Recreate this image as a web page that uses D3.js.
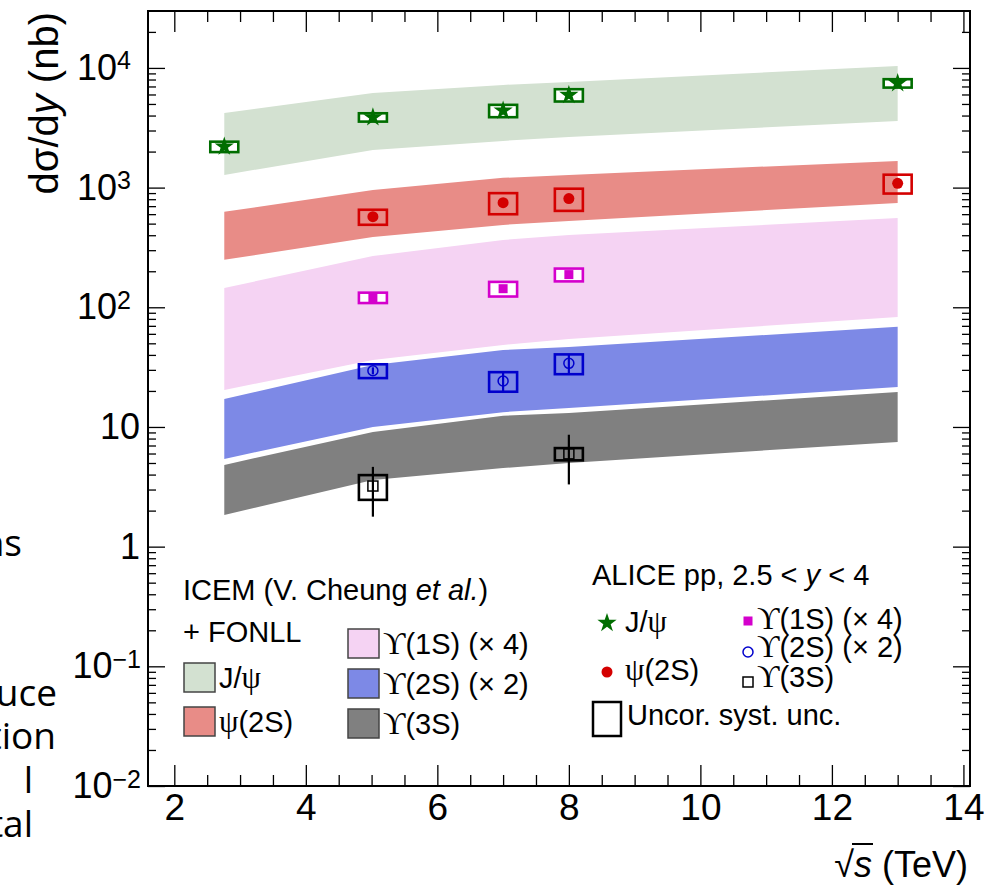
<!DOCTYPE html>
<html>
<head>
<meta charset="utf-8">
<script src="https://cdn.jsdelivr.net/npm/d3@7"></script>
<style>
  body { margin: 0; background: #fff; }
  svg { display: block; }
  text { font-family: "Liberation Sans", Arial, sans-serif; fill: #000; }
  .greek { font-family: "Liberation Serif", "DejaVu Serif", serif; }
</style>
</head>
<body>
<script>
// model bands (ICEM + FONLL), upper and lower edges at each energy
var bandX = [2.76, 5.02, 7, 8, 13],
	jpsiHi = [4210, 6180, 7210, 7640, 10390],
	jpsiLo = [1276, 2066, 2456, 2651, 3608],
	psi2sHi = [627, 957, 1206, 1277, 1672],
	psi2sLo = [249, 387, 488, 527, 745],
	ups1Hi = [145, 268, 365, 402, 557],
	ups1Lo = [20.4, 36.3, 48.5, 54.4, 83.0],
	ups2Hi = [17.1, 33.0, 44.0, 46.6, 68.6],
	ups2Lo = [5.41, 10.0, 13.3, 14.4, 21.6],
	ups3Hi = [4.82, 9.09, 12.4, 13.1, 19.6],
	ups3Lo = [1.84, 3.61, 4.54, 5.00, 7.50];

// ALICE data: value, stat. and uncorrelated syst. uncertainties
var jpsiX = [2.76, 5.02, 7, 8, 13],
	jpsiY = [2200, 3870, 4395, 5940, 7450],
	jpsiStat = [60, 90, 120, 150, 150],
	jpsiSys = [220, 310, 520, 700, 600];
var psi2sX = [5.02, 7, 8, 13],
	psi2sY = [571, 749, 809, 1087],
	psi2sStat = [25, 40, 45, 40],
	psi2sSys = [82, 150, 170, 195];
var ups1X = [5.02, 7, 8],
	ups1Y = [120.5, 143, 187.6],
	ups1Stat = [4, 8, 9],
	ups1Sys = [12, 20, 23];
var ups2X = [5.02, 7, 8],
	ups2Y = [29.5, 24.2, 34.0],
	ups2Stat = [2, 4.6, 6.5],
	ups2Sys = [3.9, 4.5, 6.4];
var ups3X = [5.02, 8],
	ups3Y = [3.21, 5.96],
	ups3Stat = [1.43, 2.65],
	ups3Sys = [0.75, 0.70];

// axis ticks
var xMajor = [2, 4, 6, 8, 10, 12, 14],
	yMajor = [0.01, 0.1, 1, 10, 100, 1000, 10000];

// frame edges (note: "top" is taken by window.top)
var W = 999, H = 887,
	fLeft = 148, fRight = 970, fTop = 11, fBottom = 786;

var svg = d3.select('body').append('svg')
	.attr('width', W)
	.attr('height', H);

var x = d3.scaleLinear().domain([1.6, 14.1]).range([fLeft, fRight]);
var y = d3.scaleLog().domain([0.01, 29900]).range([fBottom, fTop]);

// minor ticks
var xMinor = d3.range(1.5, 14.01, 0.5).filter(function(v) { return v > 1.6 && v % 2 != 0; });
var yMinor = [];
yMajor.forEach(function(d) {
	for (var m = 2; m <= 9; m++) {
		if (d * m < 29900) yMinor.push(d * m);
	}
});

// bands
var bands = [
	{hi: jpsiHi, lo: jpsiLo, color: '#d3e1d1'},
	{hi: psi2sHi, lo: psi2sLo, color: '#e88c87'},
	{hi: ups1Hi, lo: ups1Lo, color: '#f5d3f3'},
	{hi: ups2Hi, lo: ups2Lo, color: '#7d89e6'},
	{hi: ups3Hi, lo: ups3Lo, color: '#808080'}
];
var area = d3.area()
	.x(function(d) { return x(d.x); })
	.y0(function(d) { return y(d.lo); })
	.y1(function(d) { return y(d.hi); });

bands.forEach(function(b) {
	var pts = bandX.map(function(v, i) { return {x: v, hi: b.hi[i], lo: b.lo[i]}; });
	svg.append('path')
		.attr('d', area(pts))
		.attr('fill', b.color);
});

// data series
var series = [
	{x: jpsiX, y: jpsiY, stat: jpsiStat, sys: jpsiSys, color: '#006d00', marker: 'star', boxFill: 'white'},
	{x: psi2sX, y: psi2sY, stat: psi2sStat, sys: psi2sSys, color: '#d40000', marker: 'dot', boxFill: 'none'},
	{x: ups1X, y: ups1Y, stat: ups1Stat, sys: ups1Sys, color: '#d400cc', marker: 'fsquare', boxFill: 'white'},
	{x: ups2X, y: ups2Y, stat: ups2Stat, sys: ups2Sys, color: '#0000cc', marker: 'ocircle', boxFill: 'none'},
	{x: ups3X, y: ups3Y, stat: ups3Stat, sys: ups3Sys, color: '#000000', marker: 'osquare', boxFill: 'none'}
];

function drawMarker(g, type, cx, cy, color, fill) {
	if (type == 'star') {
		g.append('path')
			.attr('d', d3.symbol().type(d3.symbolStar).size(115)())
			.attr('transform', 'translate(' + cx + ',' + cy + ')')
			.attr('fill', color);
	} else if (type == 'dot') {
		g.append('circle').attr('cx', cx).attr('cy', cy).attr('r', 5.5).attr('fill', color);
	} else if (type == 'fsquare') {
		g.append('rect').attr('x', cx - 4.5).attr('y', cy - 4.5).attr('width', 9).attr('height', 9).attr('fill', color);
	} else if (type == 'ocircle') {
		g.append('circle').attr('cx', cx).attr('cy', cy).attr('r', 5)
			.attr('fill', 'none').attr('stroke', color).attr('stroke-width', 1.5);
	} else if (type == 'osquare') {
		g.append('rect').attr('x', cx - 5).attr('y', cy - 5).attr('width', 10).attr('height', 10)
			.attr('fill', fill || 'none').attr('stroke', color).attr('stroke-width', 1.5);
	}
}

var gData = svg.append('g');
series.forEach(function(s) {
	s.x.forEach(function(xv, i) {
		var cx = x(xv), v = s.y[i];
		// uncorrelated syst. box
		gData.append('rect')
			.attr('x', cx - 14)
			.attr('width', 28)
			.attr('y', y(v + s.sys[i]))
			.attr('height', y(v - s.sys[i]) - y(v + s.sys[i]))
			.attr('fill', s.boxFill)
			.attr('stroke', s.color)
			.attr('stroke-width', 2.6);
		// stat. error bar
		gData.append('line')
			.attr('x1', cx).attr('x2', cx)
			.attr('y1', y(v + s.stat[i]))
			.attr('y2', y(v - s.stat[i]))
			.attr('stroke', s.color)
			.attr('stroke-width', 2.2);
		drawMarker(gData, s.marker, cx, y(v), s.color);
	});
});

// axes
var axisFont = function(sel, size) {
	sel.selectAll('text')
		.style('font-family', '"Liberation Sans", Arial, sans-serif')
		.style('font-size', size + 'px')
		.attr('fill', '#000');
	sel.selectAll('line').attr('stroke', '#000').attr('stroke-width', 1.3);
	sel.select('.domain').remove();
};

// bottom
svg.append('g')
	.attr('transform', 'translate(0,' + fBottom + ')')
	.call(d3.axisBottom(x).tickValues(xMajor).tickSizeInner(-21).tickSizeOuter(0).tickPadding(8))
	.call(axisFont, 37);
svg.append('g')
	.attr('transform', 'translate(0,' + fBottom + ')')
	.call(d3.axisBottom(x).tickValues(xMinor).tickSizeInner(-11).tickSizeOuter(0).tickFormat(''))
	.call(axisFont, 37);
// top
svg.append('g')
	.attr('transform', 'translate(0,' + fTop + ')')
	.call(d3.axisTop(x).tickValues(xMajor).tickSizeInner(-21).tickSizeOuter(0).tickFormat(''))
	.call(axisFont, 37);
svg.append('g')
	.attr('transform', 'translate(0,' + fTop + ')')
	.call(d3.axisTop(x).tickValues(xMinor).tickSizeInner(-11).tickSizeOuter(0).tickFormat(''))
	.call(axisFont, 37);

// left
var yAx = svg.append('g')
	.attr('transform', 'translate(' + fLeft + ',0)')
	.call(d3.axisLeft(y).tickValues(yMajor).tickSizeInner(-17).tickSizeOuter(0).tickPadding(8).tickFormat(''))
	.call(axisFont, 36);
yAx.selectAll('.tick text').each(function(d) {
	var t = d3.select(this), e = Math.round(Math.log10(d));
	if (e == 0) { t.text('1'); }
	else if (e == 1) { t.text('10'); }
	else {
		t.attr('x', e > 0 ? -17 : -7);
		t.append('tspan').text('10');
		t.append('tspan').attr('dy', '-0.42em').style('font-size', '25px')
			.text(e < 0 ? '\u2212' + (-e) : e);
	}
});
svg.append('g')
	.attr('transform', 'translate(' + fLeft + ',0)')
	.call(d3.axisLeft(y).tickValues(yMinor).tickSizeInner(-8).tickSizeOuter(0).tickFormat(''))
	.call(axisFont, 36);
// right
svg.append('g')
	.attr('transform', 'translate(' + fRight + ',0)')
	.call(d3.axisRight(y).tickValues(yMajor).tickSizeInner(-17).tickSizeOuter(0).tickFormat(''))
	.call(axisFont, 36);
svg.append('g')
	.attr('transform', 'translate(' + fRight + ',0)')
	.call(d3.axisRight(y).tickValues(yMinor).tickSizeInner(-8).tickSizeOuter(0).tickFormat(''))
	.call(axisFont, 36);

// frame
svg.append('rect')
	.attr('x', fLeft).attr('y', fTop)
	.attr('width', fRight - fLeft).attr('height', fBottom - fTop)
	.attr('fill', 'none').attr('stroke', '#000').attr('stroke-width', 2);

// y title
var yt = svg.append('text')
	.attr('transform', 'translate(58,12) rotate(-90)')
	.attr('text-anchor', 'end')
	.style('font-size', '40px');
yt.append('tspan').text('d\u03c3/d');
yt.append('tspan').style('font-style', 'italic').text('y');
yt.append('tspan').text(' (nb)');

// x title
var xt = svg.append('text')
	.attr('x', 968).attr('y', 877)
	.attr('text-anchor', 'end')
	.style('font-size', '36px');
xt.append('tspan').text('\u221a');
xt.append('tspan').style('font-style', 'italic').text('s');
xt.append('tspan').text(' (TeV)');
var sx0 = xt.node().getStartPositionOfChar(1).x,
	sx1 = xt.node().getEndPositionOfChar(1).x;
svg.append('line')
	.attr('x1', sx0 - 2).attr('x2', sx1 + 1)
	.attr('y1', 844).attr('y2', 844)
	.attr('stroke', '#000').attr('stroke-width', 2);

// model legend
var legL = svg.append('g').style('font-size', '29px');
var t1 = legL.append('text').attr('x', 183).attr('y', 600);
t1.append('tspan').text('ICEM (V. Cheung ');
t1.append('tspan').style('font-style', 'italic').text('et al.');
t1.append('tspan').text(')');
legL.append('text').attr('x', 183).attr('y', 642).text('+ FONLL');

var modelLeg = [
	{bx: 184, by: 663, label: ['J/', '\u03c8', ''], color: bands[0].color},
	{bx: 184, by: 707, label: ['', '\u03c8', '(2S)'], color: bands[1].color},
	{bx: 348, by: 629, label: ['', '\u03d2', '(1S) (\u00d7 4)'], color: bands[2].color},
	{bx: 348, by: 669, label: ['', '\u03d2', '(2S) (\u00d7 2)'], color: bands[3].color},
	{bx: 348, by: 709, label: ['', '\u03d2', '(3S)'], color: bands[4].color}
];
modelLeg.forEach(function(l) {
	legL.append('rect')
		.attr('x', l.bx).attr('y', l.by)
		.attr('width', 31).attr('height', 29)
		.attr('fill', l.color).attr('stroke', '#444').attr('stroke-width', 1.5);
	var t = legL.append('text').attr('x', l.bx + 35).attr('y', l.by + 25);
	t.append('tspan').text(l.label[0]);
	t.append('tspan').attr('class', 'greek').style('font-size', '31px').text(l.label[1]);
	t.append('tspan').text(l.label[2]);
});

// data legend
var legR = svg.append('g').style('font-size', '29px');
var t2 = legR.append('text').attr('x', 592).attr('y', 585);
t2.append('tspan').text('ALICE pp, 2.5 < ');
t2.append('tspan').style('font-style', 'italic').text('y');
t2.append('tspan').text(' < 4');

var dataLeg = [
	{mx: 607, my: 623, ty: 632, s: series[0], label: ['J/', '\u03c8', '']},
	{mx: 607, my: 672, ty: 680, s: series[1], label: ['', '\u03c8', '(2S)']},
	{mx: 748, my: 621, ty: 629, s: series[2], label: ['', '\u03d2', '(1S) (\u00d7 4)']},
	{mx: 748, my: 652, ty: 657, s: series[3], label: ['', '\u03d2', '(2S) (\u00d7 2)']},
	{mx: 748, my: 682, ty: 687, s: series[4], label: ['', '\u03d2', '(3S)']}
];
dataLeg.forEach(function(l) {
	drawMarker(legR, l.s.marker, l.mx, l.my, l.s.color, 'white');
	var t = legR.append('text').attr('x', l.mx + (l.mx < 700 ? 18 : 9)).attr('y', l.ty);
	t.append('tspan').text(l.label[0]);
	t.append('tspan').attr('class', 'greek').style('font-size', '31px').text(l.label[1]);
	t.append('tspan').text(l.label[2]);
});
legR.append('rect')
	.attr('x', 593).attr('y', 702).attr('width', 28).attr('height', 34)
	.attr('fill', 'none').attr('stroke', '#000').attr('stroke-width', 2.5);
legR.append('text').attr('x', 627).attr('y', 725).text('Uncor. syst. unc.');

// slide text cut off at the left edge
var sideWords = ['ns', 'uce', 'tion', 'l', 'tal'],
	sideRight = [22, 57, 56, 33, 33],
	sideBase = [556, 706, 749, 793, 837];
sideWords.forEach(function(w, i) {
	svg.append('text')
		.attr('x', sideRight[i]).attr('y', sideBase[i])
		.attr('text-anchor', 'end')
		.style('font-family', '"Open Sans", sans-serif')
		.style('font-size', '37px')
		.attr('fill', '#111')
		.text(w);
});
</script>
</body>
</html>
